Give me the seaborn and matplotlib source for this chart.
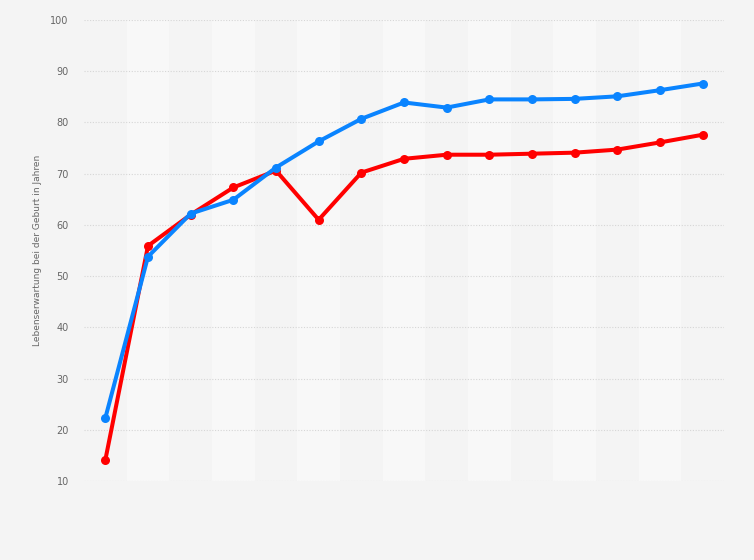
import numpy as np
import pandas as pd
import matplotlib
matplotlib.use("Agg")
import seaborn as sns
import matplotlib.pyplot as plt

# values (15 periods, no x labels shown)
periode = list(range(15))
frauen = [22.3, 53.8, 62.2, 64.9, 71.2, 76.3, 80.7, 83.9, 82.9, 84.5, 84.5, 84.6, 85.1, 86.3, 87.6]
maenner = [14.1, 55.9, 62.0, 67.3, 70.6, 61.0, 70.2, 72.9, 73.7, 73.7, 73.9, 74.1, 74.7, 76.1, 77.6]
y_ticks = [10, 20, 30, 40, 50, 60, 70, 80, 90, 100]

df = pd.concat([
    pd.DataFrame({'periode': periode, 'wert': frauen, 'serie': 'Frauen'}),
    pd.DataFrame({'periode': periode, 'wert': maenner, 'serie': 'Männer'}),
])

sns.set_style('white')
plt.rcParams['font.family'] = ['DejaVu Sans']

bg = '#f4f4f4'
fig = plt.figure(figsize=(7.54, 5.6), dpi=100, facecolor=bg)
ax = fig.add_axes([84 / 754, 1 - 481 / 560, 640 / 754, 461 / 560])
ax.set_facecolor(bg)

# alternating column bands
for i in periode:
    if i % 2 == 1:
        ax.axvspan(i - 0.5, i + 0.5, color='#f8f8f8', zorder=0, lw=0)

for y in y_ticks:
    ax.axhline(y, color='#d6d6d6', lw=0.8, ls=(0, (1, 1.5)), zorder=1)

sns.lineplot(data=df, x='periode', y='wert', hue='serie',
             palette={'Frauen': '#0a84ff', 'Männer': '#ff0000'},
             hue_order=['Männer', 'Frauen'],
             marker='o', markersize=6.5, markeredgewidth=0, linewidth=2.9,
             legend=False, ax=ax, zorder=3)

ax.set_xlim(-0.5, 14.5)
ax.set_ylim(10, 100)
ax.set_yticks(y_ticks)
ax.set_xticks([])
ax.tick_params(axis='y', length=0, pad=11, labelsize=7, labelcolor='#666666')
ax.set_xlabel('')
ax.set_ylabel('Lebenserwartung bei der Geburt in Jahren', fontsize=6.5, color='#666666', labelpad=6)
for s in ax.spines.values():
    s.set_visible(False)

fig.savefig('out.png', dpi=100, facecolor=bg)
